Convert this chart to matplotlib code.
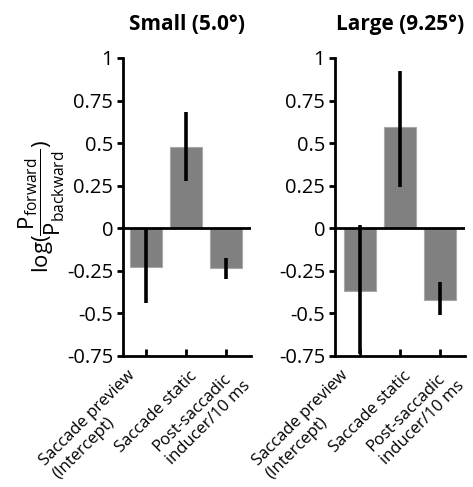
import numpy as np
import matplotlib
matplotlib.use('Agg')
import matplotlib.pyplot as plt

plt.rcParams['font.family'] = ['Open Sans', 'DejaVu Sans']
plt.rcParams['mathtext.fontset'] = 'custom'
plt.rcParams['mathtext.rm'] = 'Open Sans'
plt.rcParams['mathtext.it'] = 'Open Sans:italic'
plt.rcParams['mathtext.bf'] = 'Open Sans:bold'

# data
categories = ['Saccade preview\n(Intercept)', 'Saccade static', 'Post-saccadic\ninducer/10 ms']
titles = ['Small (5.0°)', 'Large (9.25°)']
small_vals = [-0.225, 0.48, -0.233]
small_lo = [-0.44, 0.28, -0.296]
small_hi = [-0.005, 0.685, -0.172]
large_vals = [-0.37, 0.596, -0.42]
large_lo = [-0.737, 0.243, -0.51]
large_hi = [0.018, 0.924, -0.316]
yticks = [-0.75, -0.5, -0.25, 0, 0.25, 0.5, 0.75, 1]
ytick_labels = ['-0.75', '-0.5', '-0.25', '0', '0.25', '0.5', '0.75', '1']

# offsets (points) of each category label from its tick
label_offsets = [(-14, -8), (2, -9), (2, -6)]

fig = plt.figure(figsize=(4.73, 4.87), dpi=100)
ax1 = fig.add_axes([0.260, 0.269, 0.271, 0.612])
ax2 = fig.add_axes([0.708, 0.269, 0.275, 0.612])

panels = [(ax1, small_vals, small_lo, small_hi, (-0.575, 2.625)),
          (ax2, large_vals, large_lo, large_hi, (-0.625, 2.625))]

x = np.arange(len(categories))
for i, (ax, vals, lo, hi, xl) in enumerate(panels):
    ax.bar(x, vals, width=0.8, color='#808080', edgecolor='#a8a8a8', linewidth=0.8, zorder=2)
    ax.vlines(x, lo, hi, color='black', linewidth=2.6, zorder=3)
    ax.axhline(0, color='black', linewidth=2, zorder=4)
    ax.set_xlim(*xl)
    ax.set_ylim(-0.75, 1)
    ax.set_yticks(yticks)
    ax.set_yticklabels(ytick_labels, fontsize=14.5)
    ax.set_xticks(x)
    ax.set_xticklabels([])
    for xi, lab, off in zip(x, categories, label_offsets):
        ax.annotate(lab, xy=(xi, 0), xycoords=('data', 'axes fraction'),
                    xytext=off, textcoords='offset points',
                    fontsize=12, rotation=45, ha='right', va='top',
                    rotation_mode='anchor', multialignment='left',
                    linespacing=1.25, annotation_clip=False)
    for s in ['top', 'right']:
        ax.spines[s].set_visible(False)
    for s in ['left', 'bottom']:
        ax.spines[s].set_linewidth(2)
    ax.tick_params(axis='y', direction='out', length=4, width=2, pad=3)
    ax.tick_params(axis='x', direction='in', length=5, width=2)
    ax.set_title(titles[i], fontsize=15, fontweight='bold', pad=20)

ax1.set_ylabel(r'$\mathrm{log}(\dfrac{\mathrm{P}_{\mathrm{forward}}}{\mathrm{P}_{\mathrm{backward}}})$',
               fontsize=16, labelpad=0)

fig.savefig('out.png', dpi=100)
